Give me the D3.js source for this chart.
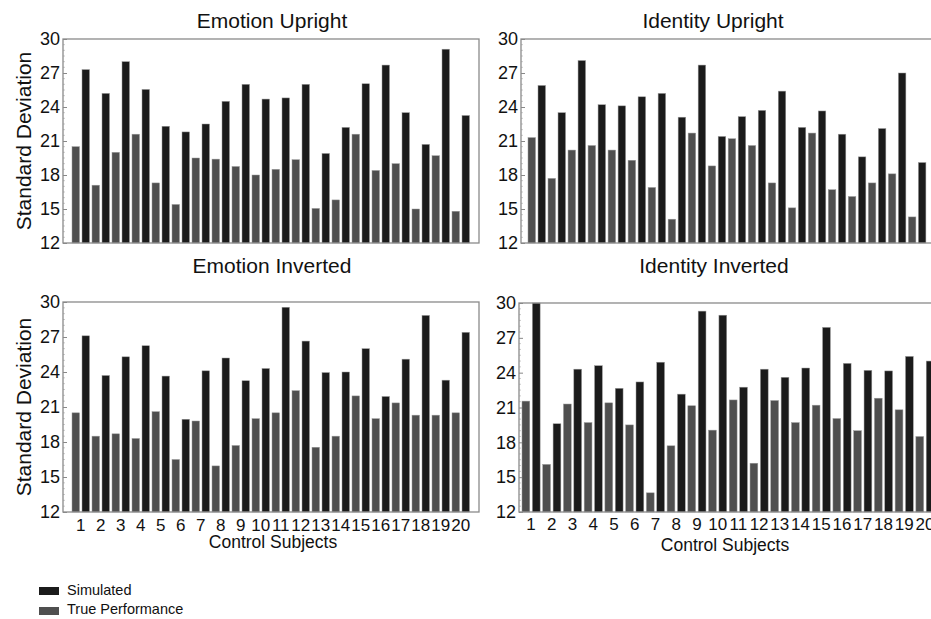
<!DOCTYPE html>
<html lang="en">
<head>
<meta charset="utf-8">
<title>Standard Deviation by Control Subject</title>
<script src="https://cdn.jsdelivr.net/npm/d3@7"></script>
<style>
  body { margin: 0; background: #fff; }
  text { font-family: "Liberation Sans", Arial, sans-serif; fill: #111; }
</style>
</head>
<body>
<script>

// categories
var subjects = ["1","2","3","4","5","6","7","8","9","10","11","12","13","14","15","16","17","18","19","20"];
var seriesNames = ["Simulated", "True Performance"];
var yTicks = [12, 15, 18, 21, 24, 27, 30];

// Emotion Upright
var emoUpSim  = [27.3, 25.2, 28.0, 25.55, 22.3, 21.8, 22.5, 24.5, 26.0, 24.7, 24.8, 26.0, 19.9, 22.2, 26.05, 27.7, 23.5, 20.7, 29.1, 23.25];
var emoUpTrue = [20.5, 17.1, 20.0, 21.6, 17.3, 15.4, 19.5, 19.4, 18.75, 18.0, 18.5, 19.35, 15.05, 15.8, 21.6, 18.4, 19.0, 15.0, 19.7, 14.8];

// Identity Upright
var idUpSim  = [25.9, 23.5, 28.1, 24.2, 24.1, 24.9, 25.2, 23.1, 27.7, 21.4, 23.15, 23.7, 25.4, 22.2, 23.65, 21.6, 19.6, 22.1, 27.0, 19.1];
var idUpTrue = [21.3, 17.7, 20.2, 20.6, 20.2, 19.3, 16.9, 14.1, 21.7, 18.8, 21.2, 20.6, 17.3, 15.1, 21.7, 16.7, 16.1, 17.3, 18.1, 14.3];

// Emotion Inverted
var emoInvSim  = [27.1, 23.7, 25.3, 26.25, 23.65, 19.95, 24.1, 25.2, 23.25, 24.3, 29.55, 26.65, 23.95, 24.0, 26.0, 21.9, 25.1, 28.85, 23.3, 27.4];
var emoInvTrue = [20.5, 18.5, 18.7, 18.3, 20.6, 16.5, 19.8, 15.95, 17.7, 20.0, 20.5, 22.4, 17.55, 18.5, 21.95, 20.0, 21.35, 20.3, 20.3, 20.5];

// Identity Inverted
var idInvSim  = [30.0, 19.6, 24.3, 24.6, 22.65, 23.2, 24.9, 22.15, 29.3, 28.95, 22.75, 24.3, 23.6, 24.4, 27.9, 24.8, 24.2, 24.15, 25.4, 25.0];
var idInvTrue = [21.55, 16.1, 21.3, 19.7, 21.4, 19.5, 13.65, 17.7, 21.15, 19.05, 21.65, 16.2, 21.6, 19.7, 21.2, 20.05, 19.0, 21.8, 20.8, 18.5];

var colors = { "Simulated": "#1b1b1b", "True Performance": "#4f4f4f" };

var w = 931, h = 619;

var svg = d3.select("body").append("svg")
    .attr("width", w)
    .attr("height", h);

var panels = [
  { title: "Emotion Upright", sim: emoUpSim, tru: emoUpTrue,
    left: 63, right: 479, top: 39, bottom: 243, bandL: 70.75, bandR: 470.75,
    titleX: 272, titleY: 28, yLabel: true, xLabels: false },
  { title: "Identity Upright", sim: idUpSim, tru: idUpTrue,
    left: 521, right: 936, top: 39, bottom: 243, bandL: 526.75, bandR: 927.15,
    titleX: 713, titleY: 28, yLabel: false, xLabels: false },
  { title: "Emotion Inverted", sim: emoInvSim, tru: emoInvTrue,
    left: 63, right: 479, top: 302, bottom: 512, bandL: 70.75, bandR: 470.75,
    titleX: 272, titleY: 273, yLabel: true, xLabels: true, tickY: 531, xTitleX: 273, xTitleY: 548 },
  { title: "Identity Inverted", sim: idInvSim, tru: idInvTrue,
    left: 519, right: 940, top: 303, bottom: 512, bandL: 520.7, bandR: 935.3,
    titleX: 714, titleY: 273, yLabel: false, xLabels: true, tickY: 530, xTitleX: 725, xTitleY: 551 }
];

panels.forEach(function(p) {
  var g = svg.append("g");

  var x = d3.scaleBand()
      .domain(subjects)
      .range([p.bandL, p.bandR])
      .padding(0);

  // true performance first, simulated second inside each subject
  var xs = d3.scaleBand()
      .domain(["True Performance", "Simulated"])
      .range([0, x.bandwidth()])
      .paddingInner(0.25)
      .paddingOuter(0.125);

  var y = d3.scaleLinear()
      .domain([12, 30])
      .range([p.bottom, p.top]);

  // minor ticks
  var minor = d3.range(12, 30.01, 0.5).filter(function(v) { return v % 3 !== 0; });
  g.selectAll(".minor")
    .data(minor)
    .enter().append("line")
      .attr("x1", p.left).attr("x2", p.left + 2)
      .attr("y1", function(d) { return y(d); })
      .attr("y2", function(d) { return y(d); })
      .attr("stroke", "#aaa")
      .attr("stroke-width", 0.6);

  // y axis
  var yAxis = d3.axisLeft(y)
      .tickValues(yTicks)
      .tickSizeInner(-4)
      .tickSizeOuter(0)
      .tickPadding(3);

  var ya = g.append("g")
      .attr("transform", "translate(" + p.left + ",0)")
      .call(yAxis);
  ya.select(".domain").remove();
  ya.selectAll("line").attr("stroke", "#888");
  ya.selectAll("text")
      .style("font-family", "'Liberation Sans', Arial, sans-serif")
      .style("font-size", "18px")
      .attr("fill", "#111");

  // bars
  var rows = subjects.map(function(s, i) {
    return { subject: s, values: [
      { key: "True Performance", value: p.tru[i] },
      { key: "Simulated", value: p.sim[i] }
    ]};
  });

  var groups = g.selectAll(".grp")
    .data(rows)
    .enter().append("g")
      .attr("transform", function(d) { return "translate(" + x(d.subject) + ",0)"; });

  groups.selectAll("rect")
    .data(function(d) { return d.values; })
    .enter().append("rect")
      .attr("x", function(d) { return xs(d.key); })
      .attr("width", xs.bandwidth())
      .attr("y", function(d) { return y(d.value); })
      .attr("height", function(d) { return y(12) - y(d.value); })
      .attr("fill", function(d) { return colors[d.key]; })
      .attr("stroke", "#9a9a9a")
      .attr("stroke-width", 0.5);

  // frame
  g.append("rect")
      .attr("x", p.left)
      .attr("y", p.top)
      .attr("width", p.right - p.left)
      .attr("height", p.bottom - p.top)
      .attr("fill", "none")
      .attr("stroke", "#8a8a8a")
      .attr("stroke-width", 1.3);

  // x tick labels
  if (p.xLabels) {
    var xAxis = d3.axisBottom(x).tickSize(0).tickPadding(0);
    var xa = g.append("g")
        .attr("transform", "translate(0," + p.tickY + ")")
        .call(xAxis);
    xa.select(".domain").remove();
    xa.selectAll("text")
        .attr("dy", 0)
        .attr("y", 0)
        .style("font-family", "'Liberation Sans', Arial, sans-serif")
        .style("font-size", "17px")
        .attr("fill", "#111");

    g.append("text")
        .attr("x", p.xTitleX)
        .attr("y", p.xTitleY)
        .attr("text-anchor", "middle")
        .attr("font-size", "17.5px")
        .text("Control Subjects");
  }

  // title
  g.append("text")
      .attr("x", p.titleX)
      .attr("y", p.titleY)
      .attr("text-anchor", "middle")
      .attr("font-size", "21px")
      .text(p.title);

  if (p.yLabel) {
    g.append("text")
        .attr("transform", "translate(31," + ((p.top + p.bottom) / 2) + ") rotate(-90)")
        .attr("text-anchor", "middle")
        .attr("font-size", "21px")
        .text("Standard Deviation");
  }
});

// legend
var legend = svg.append("g")
    .attr("transform", "translate(39,587)");

legend.selectAll("rect")
  .data(seriesNames)
  .enter().append("rect")
    .attr("x", 0)
    .attr("y", function(d, i) { return i * 20; })
    .attr("width", 20)
    .attr("height", 8)
    .attr("fill", function(d) { return colors[d]; });

legend.selectAll("text")
  .data(seriesNames)
  .enter().append("text")
    .attr("x", 28)
    .attr("y", function(d, i) { return 8 + i * 19; })
    .attr("font-size", "14.5px")
    .text(function(d) { return d; });

</script>
</body>
</html>
